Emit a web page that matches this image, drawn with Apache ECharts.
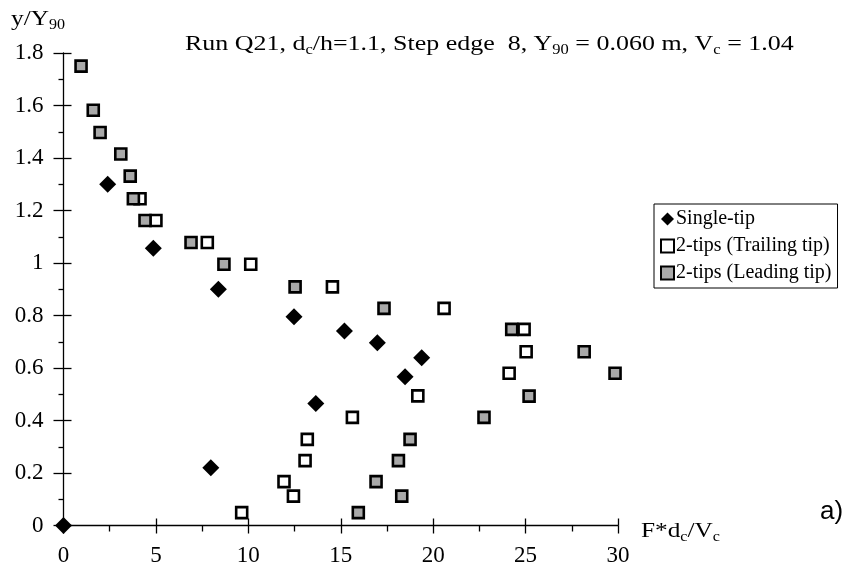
<!DOCTYPE html>
<html>
<head>
<meta charset="utf-8">
<script src="https://cdn.jsdelivr.net/npm/echarts@6/dist/echarts.min.js"></script>
<style>
  html, body { margin: 0; padding: 0; background: #fff; }
  #chart { width: 842px; height: 576px; }
</style>
</head>
<body>
<div id="chart"></div>
<script>
// values: [F*dc/Vc, y/Y90]
const singleTip = [
    [0, 0], [2.39, 1.30], [4.86, 1.056], [8.38, 0.90], [12.47, 0.795], [15.2, 0.741],
    [16.98, 0.696], [19.38, 0.639], [18.48, 0.567], [13.65, 0.465], [7.97, 0.22]
];
const trailingTip = [
    [4.14, 1.245], [5.0, 1.162], [7.78, 1.078], [10.13, 0.995], [14.55, 0.909], [20.59, 0.827],
    [24.92, 0.747], [25.03, 0.662], [24.11, 0.58], [19.17, 0.494], [15.63, 0.412], [13.19, 0.328],
    [13.07, 0.247], [11.93, 0.167], [12.44, 0.112], [9.64, 0.049]
];
const leadingTip = [
    [0.95, 1.75], [1.61, 1.582], [1.98, 1.497], [3.10, 1.415], [3.61, 1.331], [3.78, 1.245],
    [4.41, 1.162], [6.90, 1.078], [8.68, 0.995], [12.53, 0.909], [17.34, 0.827], [24.25, 0.747],
    [28.17, 0.662], [29.84, 0.58], [25.19, 0.493], [22.75, 0.412], [18.75, 0.328], [18.12, 0.247],
    [16.91, 0.167], [18.3, 0.112], [15.95, 0.049]
];
const seriesNames = ['Single-tip', '2-tips (Trailing tip)', '2-tips (Leading tip)'];
const xRange = [0, 30, 5];
const yRange = [0, 1.8, 0.2];

const serif = 'Liberation Serif';
const chart = echarts.init(document.getElementById('chart'));

// the scanned figure is a bit wider than tall, so text is stretched a little
const rich = {
    n: { fontFamily: serif, fontSize: 22, fill: '#000', lineHeight: 26 },
    s: { fontFamily: serif, fontSize: 14, fill: '#000', lineHeight: 13, verticalAlign: 'bottom' }
};
function label(text, x, y, sx) {
    return {
        type: 'text',
        x: x,
        y: y,
        scaleX: sx,
        style: { text: text, rich: rich, verticalAlign: 'middle' }
    };
}

const baseX = {
    type: 'value',
    min: xRange[0],
    max: xRange[1],
    interval: xRange[2],
    splitLine: { show: false }
};
const baseY = {
    type: 'value',
    min: yRange[0],
    max: yRange[1],
    interval: yRange[2],
    splitLine: { show: false }
};

const option = {
    backgroundColor: '#fff',
    animation: false,
    graphic: [
        label('{n|Run Q21, d}{s|c}{n|/h=1.1, Step edge  8, Y}{s|90}{n| = 0.060 m, V}{s|c}{n| = 1.04}', 185, 44, 1.18),
        label('{n|y/Y}{s|90}', 11, 19, 1.15),
        label('{n|F*d}{s|c}{n|/V}{s|c}', 641, 531, 1.15),
        {
            type: 'text',
            x: 820,
            y: 512,
            style: { text: 'a)', fontFamily: 'Liberation Sans', fontSize: 26, fill: '#000', verticalAlign: 'middle' }
        }
    ],
    legend: {
        orient: 'vertical',
        left: 654,
        top: 204,
        padding: [5, 6, 5, 6],
        itemGap: 7,
        itemWidth: 13,
        itemHeight: 13,
        borderColor: '#000',
        borderWidth: 1,
        textStyle: { fontFamily: serif, fontSize: 20, color: '#000', lineHeight: 20, padding: [0, 0, 0, -3] },
        data: seriesNames
    },
    grid: { left: 63.5, top: 53, right: 224, bottom: 50.5 },
    xAxis: [
        Object.assign({}, baseX, {
            axisLine: { lineStyle: { color: '#000', width: 1.3 } },
            axisTick: { length: 8, lineStyle: { color: '#000', width: 1.3 } },
            minorTick: { show: true, splitNumber: 2, length: 6, lineStyle: { color: '#000', width: 1.3 } },
            axisLabel: { margin: 19, fontFamily: serif, fontSize: 23, color: '#000' }
        }),
        Object.assign({}, baseX, {
            position: 'bottom',
            axisLine: { show: false },
            axisTick: { inside: true, length: 7, lineStyle: { color: '#000', width: 1.3 } },
            axisLabel: { show: false }
        })
    ],
    yAxis: [
        Object.assign({}, baseY, {
            axisLine: { lineStyle: { color: '#000', width: 1.3 } },
            axisTick: { length: 10, lineStyle: { color: '#000', width: 1.3 } },
            minorTick: { show: true, splitNumber: 2, length: 5, lineStyle: { color: '#000', width: 1.3 } },
            axisLabel: { margin: 20, fontFamily: serif, fontSize: 23, color: '#000' }
        }),
        Object.assign({}, baseY, {
            position: 'left',
            axisLine: { show: false },
            axisTick: { inside: true, length: 8, lineStyle: { color: '#000', width: 1.3 } },
            axisLabel: { show: false }
        })
    ],
    series: [
        {
            name: seriesNames[0],
            type: 'scatter',
            symbol: 'diamond',
            symbolSize: 17,
            itemStyle: { color: '#000', opacity: 1 },
            data: singleTip
        },
        {
            name: seriesNames[1],
            type: 'scatter',
            symbol: 'rect',
            symbolSize: 11,
            itemStyle: { color: '#fff', borderColor: '#000', borderWidth: 2.6, opacity: 1 },
            data: trailingTip
        },
        {
            name: seriesNames[2],
            type: 'scatter',
            symbol: 'rect',
            symbolSize: 11,
            itemStyle: { color: '#a9a9a9', borderColor: '#000', borderWidth: 2.6, opacity: 1 },
            data: leadingTip
        }
    ]
};

chart.setOption(option);
</script>
</body>
</html>
